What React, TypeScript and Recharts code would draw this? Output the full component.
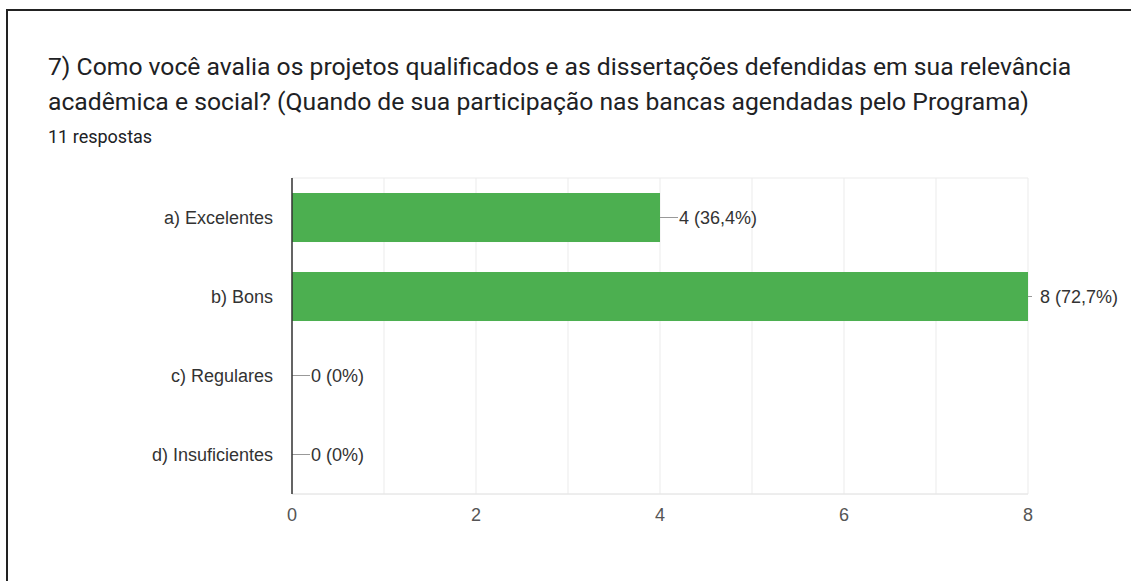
import { BarChart, Bar, XAxis, YAxis, CartesianGrid } from "recharts";

const categories = ["a) Excelentes", "b) Bons", "c) Regulares", "d) Insuficientes"];
const counts = [4, 8, 0, 0];
const percents = ["36,4%", "72,7%", "0%", "0%"];
const xTicks = [0, 1, 2, 3, 4, 5, 6, 7, 8];

const TITLE = "7) Como você avalia os projetos qualificados e as dissertações defendidas em sua relevância acadêmica e social? (Quando de sua participação nas bancas agendadas pelo Programa)";
const SUBTITLE = "11 respostas";

const data = categories.map((name, i) => ({ name, value: counts[i], label: `${counts[i]} (${percents[i]})` }));
const MAX = 8;
const TITLE_FONT = "Roboto, sans-serif";
const CHART_FONT = "'Liberation Sans', Arial, sans-serif";

// bar + leader line + value label in one shape, so zero bars still get their label
function BarWithLabel(props: any) {
  const { x, y, width, height, index, fill } = props;
  const w = Number(width || 0);
  const end = Number(x) + w;
  const cy = Number(y) + Number(height || 0) / 2;
  const full = data[index].value >= MAX;
  const stem = full ? 4 : 18;
  const tx = full ? end + 12 : end + 19;
  return (
    <g>
      {w > 0 && <rect x={x} y={y} width={w} height={height} fill={fill} />}
      <line x1={end} x2={end + stem} y1={cy} y2={cy} stroke="#999" strokeWidth={1} />
      <text x={tx} y={cy} dy="0.36em" fill="#333" fontSize={18} fontFamily={CHART_FONT}>
        {data[index].label}
      </text>
    </g>
  );
}

export default function App() {
  return (
    <div style={{ position: "absolute", left: 0, top: 0, width: 1131, height: 581, background: "#fff", overflow: "hidden" }}>
      <div style={{ position: "absolute", left: 6, top: 9, right: -10, bottom: -10, borderLeft: "2px solid #222", borderTop: "2px solid #222" }} />
      <div style={{ position: "absolute", left: 48, top: 49, width: 1070, fontFamily: TITLE_FONT, fontSize: 24.7, lineHeight: "35px", color: "#202124" }}>
        {TITLE}
      </div>
      <div style={{ position: "absolute", left: 48, top: 126, fontFamily: TITLE_FONT, fontSize: 18, lineHeight: "22px", color: "#202124" }}>
        {SUBTITLE}
      </div>
      <div style={{ position: "absolute", left: 0, top: 0 }}>
        <BarChart
          width={1131}
          height={581}
          data={data}
          layout="vertical"
          margin={{ top: 178, right: 103, bottom: 57, left: 0 }}
          barCategoryGap="19%"
        >
          <CartesianGrid
            stroke="#ebebeb"
            vertical
            horizontal
            horizontalCoordinatesGenerator={({ offset }: any) => [offset.top, offset.top + offset.height]}
          />
          <XAxis
            type="number"
            domain={[0, MAX]}
            ticks={xTicks}
            tickFormatter={(v: number) => (v % 2 === 0 ? String(v) : "")}
            tickLine={false}
            axisLine={{ stroke: "#e6e6e6" }}
            tick={{ fill: "#555", fontSize: 18, fontFamily: CHART_FONT }}
            tickMargin={8}
            height={30}
          />
          <YAxis
            type="category"
            dataKey="name"
            width={292}
            tickLine={false}
            axisLine={{ stroke: "#333", strokeWidth: 1.5 }}
            tick={{ fill: "#333", fontSize: 18, fontFamily: CHART_FONT }}
            tickMargin={13}
          />
          <Bar dataKey="value" fill="#4caf50" isAnimationActive={false} shape={<BarWithLabel />} />
        </BarChart>
      </div>
    </div>
  );
}
